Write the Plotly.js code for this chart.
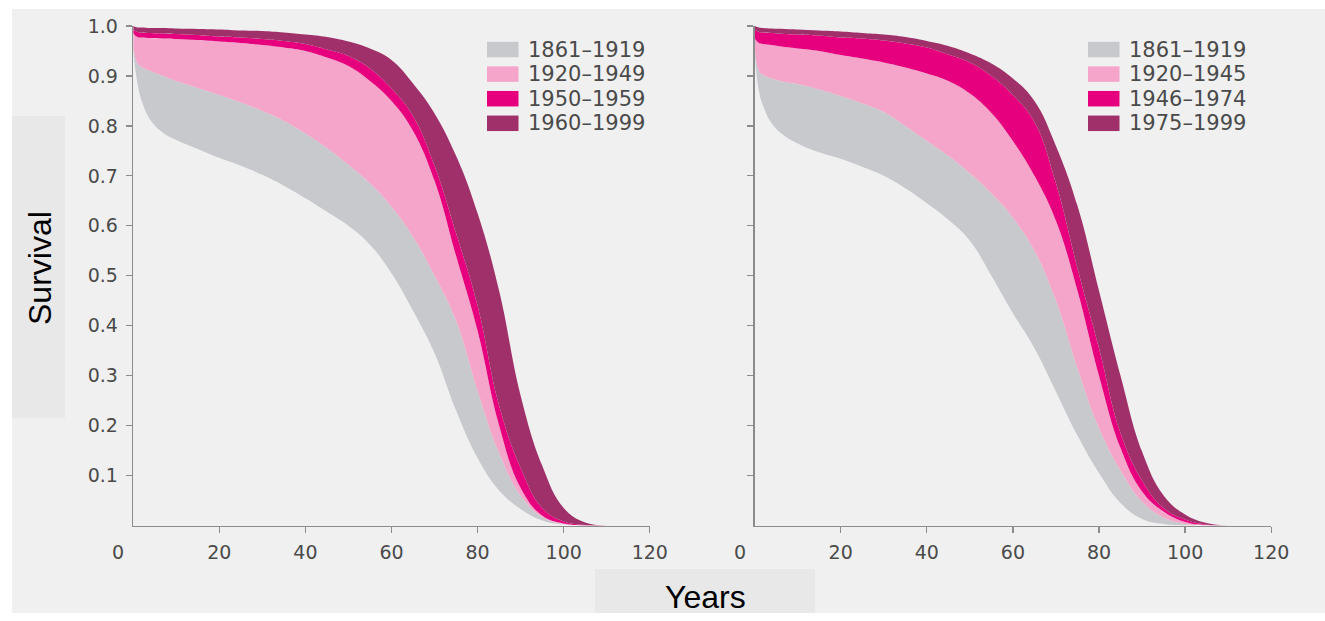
<!DOCTYPE html>
<html>
<head>
<meta charset="utf-8">
<script src="https://cdn.plot.ly/plotly-3.0.1.min.js"></script>
<style>
html,body{margin:0;padding:0;background:#ffffff;}
#chart{width:1325px;height:621px;}
</style>
</head>
<body>
<div id="chart"></div>
<script>
// ---- data ----
const ages = [0,1,2,4,7,10,15,20,25,30,35,40,45,50,55,60,65,70,75,80,85,90,95,100,105,110];

// Left panel: survival curves bounding each cohort band (lowest edge first)
const leftEdge0 = [0.95,0.885,0.85,0.812,0.786,0.772,0.754,0.736,0.72,0.702,0.68,0.655,0.628,0.6,0.562,0.505,0.43,0.345,0.23,0.135,0.07,0.033,0.01,0.002,0,0];
const leftEdge1 = [0.96,0.925,0.918,0.91,0.9,0.89,0.876,0.862,0.847,0.83,0.81,0.785,0.756,0.722,0.685,0.638,0.578,0.5,0.41,0.27,0.145,0.06,0.017,0.003,0,0];
const leftEdge2 = [0.985,0.978,0.977,0.976,0.975,0.974,0.972,0.969,0.966,0.962,0.957,0.95,0.937,0.92,0.89,0.85,0.79,0.69,0.54,0.39,0.2,0.075,0.02,0.004,0,0];
const leftEdge3 = [0.993,0.988,0.987,0.986,0.985,0.984,0.982,0.979,0.977,0.974,0.97,0.964,0.953,0.94,0.915,0.875,0.82,0.72,0.585,0.44,0.24,0.115,0.035,0.008,0.001,0];
const leftEdge4 = [1.0,0.997,0.997,0.996,0.996,0.995,0.994,0.993,0.991,0.99,0.987,0.983,0.978,0.969,0.955,0.932,0.885,0.825,0.74,0.625,0.47,0.26,0.12,0.035,0.006,0];

// Right panel
const rightEdge0 = [0.95,0.87,0.84,0.805,0.78,0.765,0.747,0.734,0.718,0.7,0.675,0.645,0.612,0.57,0.5,0.425,0.355,0.268,0.18,0.105,0.045,0.013,0.003,0,0,0];
const rightEdge1 = [0.96,0.91,0.902,0.895,0.888,0.884,0.873,0.86,0.845,0.828,0.8,0.77,0.74,0.705,0.665,0.616,0.55,0.45,0.315,0.195,0.11,0.048,0.016,0.003,0,0];
const rightEdge2 = [0.975,0.966,0.964,0.962,0.958,0.955,0.95,0.942,0.935,0.927,0.917,0.905,0.89,0.865,0.826,0.77,0.7,0.61,0.47,0.3,0.155,0.068,0.028,0.007,0.001,0];
const rightEdge3 = [0.993,0.988,0.987,0.986,0.984,0.983,0.981,0.977,0.975,0.971,0.965,0.957,0.943,0.927,0.9,0.862,0.808,0.685,0.515,0.355,0.185,0.09,0.035,0.012,0.002,0];
const rightEdge4 = [1.0,0.997,0.996,0.995,0.994,0.993,0.991,0.989,0.986,0.983,0.978,0.97,0.96,0.945,0.925,0.895,0.85,0.76,0.64,0.47,0.3,0.148,0.06,0.022,0.005,0];

const leftLabels  = ['1861–1919','1920–1949','1950–1959','1960–1999'];
const rightLabels = ['1861–1919','1920–1945','1946–1974','1975–1999'];
const xTickVals = [20,40,60,80,100,120];
const yTickVals = [0.1,0.2,0.3,0.4,0.5,0.6,0.7,0.8,0.9,1.0];

// ---- styles ----
const bandColors = ['#c7c9cc','#f4a5c9','#e6007e','#a0306a'];
const W = 1325, H = 621;
const px = x => x / W;
const py = y => (H - y) / H;

function bands(edges, labels, xa, ya) {
  const out = [];
  edges.forEach((e, i) => {
    out.push({
      type: 'scatter', mode: 'lines', x: ages, y: e, xaxis: xa, yaxis: ya,
      line: {width: 0, shape: 'spline', smoothing: 1.2},
      fill: i === 0 ? 'none' : 'tonexty',
      fillcolor: i === 0 ? 'rgba(0,0,0,0)' : bandColors[i - 1],
      name: i === 0 ? 'base' : labels[i - 1],
      showlegend: false, hoverinfo: 'skip'
    });
  });
  return out;
}

const data = [
  ...bands([leftEdge0,leftEdge1,leftEdge2,leftEdge3,leftEdge4], leftLabels, 'x', 'y'),
  ...bands([rightEdge0,rightEdge1,rightEdge2,rightEdge3,rightEdge4], rightLabels, 'x2', 'y2')
];

const tickFont = {family: 'DejaVu Sans', size: 19, color: '#4a4a4a'};
const axisCommon = {
  showgrid: false, zeroline: false, showline: true, linecolor: '#8c8c8c', linewidth: 1.5,
  ticks: 'outside', ticklen: 6, tickwidth: 1.2, tickcolor: '#8c8c8c', tickfont: tickFont
};

const yDom = [py(525.5), py(26)];
const layout = {
  width: W, height: H,
  margin: {l: 0, r: 0, t: 0, b: 0},
  paper_bgcolor: '#ffffff', plot_bgcolor: 'rgba(0,0,0,0)',
  showlegend: false,
  xaxis: Object.assign({}, axisCommon, {domain: [px(133.2), px(649.8)], range: [0,120], tickvals: xTickVals, anchor: 'y', ticklabelstandoff: 3}),
  yaxis: Object.assign({}, axisCommon, {domain: yDom, range: [0,1], tickvals: yTickVals, tickformat: '.1f', anchor: 'x', ticklabelstandoff: 4}),
  xaxis2: Object.assign({}, axisCommon, {domain: [px(754.6), px(1271.2)], range: [0,120], tickvals: xTickVals, anchor: 'y2', ticklabelstandoff: 3}),
  yaxis2: Object.assign({}, axisCommon, {domain: yDom, range: [0,1], tickvals: yTickVals, showticklabels: false, anchor: 'x2'}),
  shapes: [],
  annotations: []
};

// background panels
layout.shapes.push({type:'rect', xref:'paper', yref:'paper', x0:px(12), x1:1, y0:py(613), y1:py(9), fillcolor:'#f0f0f0', line:{width:0}, layer:'below'});
layout.shapes.push({type:'rect', xref:'paper', yref:'paper', x0:px(12), x1:px(65), y0:py(418), y1:py(116), fillcolor:'#e8e8e8', line:{width:0}, layer:'below'});
layout.shapes.push({type:'rect', xref:'paper', yref:'paper', x0:px(595), x1:px(815), y0:py(613), y1:py(569), fillcolor:'#e8e8e8', line:{width:0}, layer:'below'});

// custom legends
const legendRow0 = 49.5, legendStep = 24.6, swH = 15.5, swW = 31.5;
function legend(labels, swX) {
  labels.forEach((lab, i) => {
    const cy = legendRow0 + i * legendStep;
    layout.shapes.push({type:'rect', xref:'paper', yref:'paper', x0:px(swX), x1:px(swX + swW),
      y0:py(cy + swH/2), y1:py(cy - swH/2), fillcolor:bandColors[i], line:{width:0}});
    layout.annotations.push({xref:'paper', yref:'paper', x:px(swX + swW + 7), y:py(cy), xanchor:'left', yanchor:'middle',
      text: lab, showarrow:false, font:{family:'DejaVu Sans', size:21, color:'#4a4a4a'}});
  });
}
legend(leftLabels, 487);
legend(rightLabels, 1088);

// "0" labels (offset left of the axis corner as in the reference)
[['x','y'],['x2','y2']].forEach(([xa, ya]) => {
  layout.annotations.push({xref:xa, yref:ya, x:0, y:0, xanchor:'center', yanchor:'top', xshift:-15, yshift:-13,
    text:'0', showarrow:false, font:tickFont});
});

// axis titles
layout.annotations.push({xref:'paper', yref:'paper', x:px(40), y:py(268), xanchor:'center', yanchor:'middle',
  text:'Survival', textangle:-90, showarrow:false, font:{family:'Liberation Sans', size:32, color:'#000000'}});
layout.annotations.push({xref:'paper', yref:'paper', x:px(705), y:py(597), xanchor:'center', yanchor:'middle',
  text:'Years', showarrow:false, font:{family:'Liberation Sans', size:32, color:'#000000'}});

Plotly.newPlot('chart', data, layout, {staticPlot: true, displayModeBar: false});
</script>
</body>
</html>
